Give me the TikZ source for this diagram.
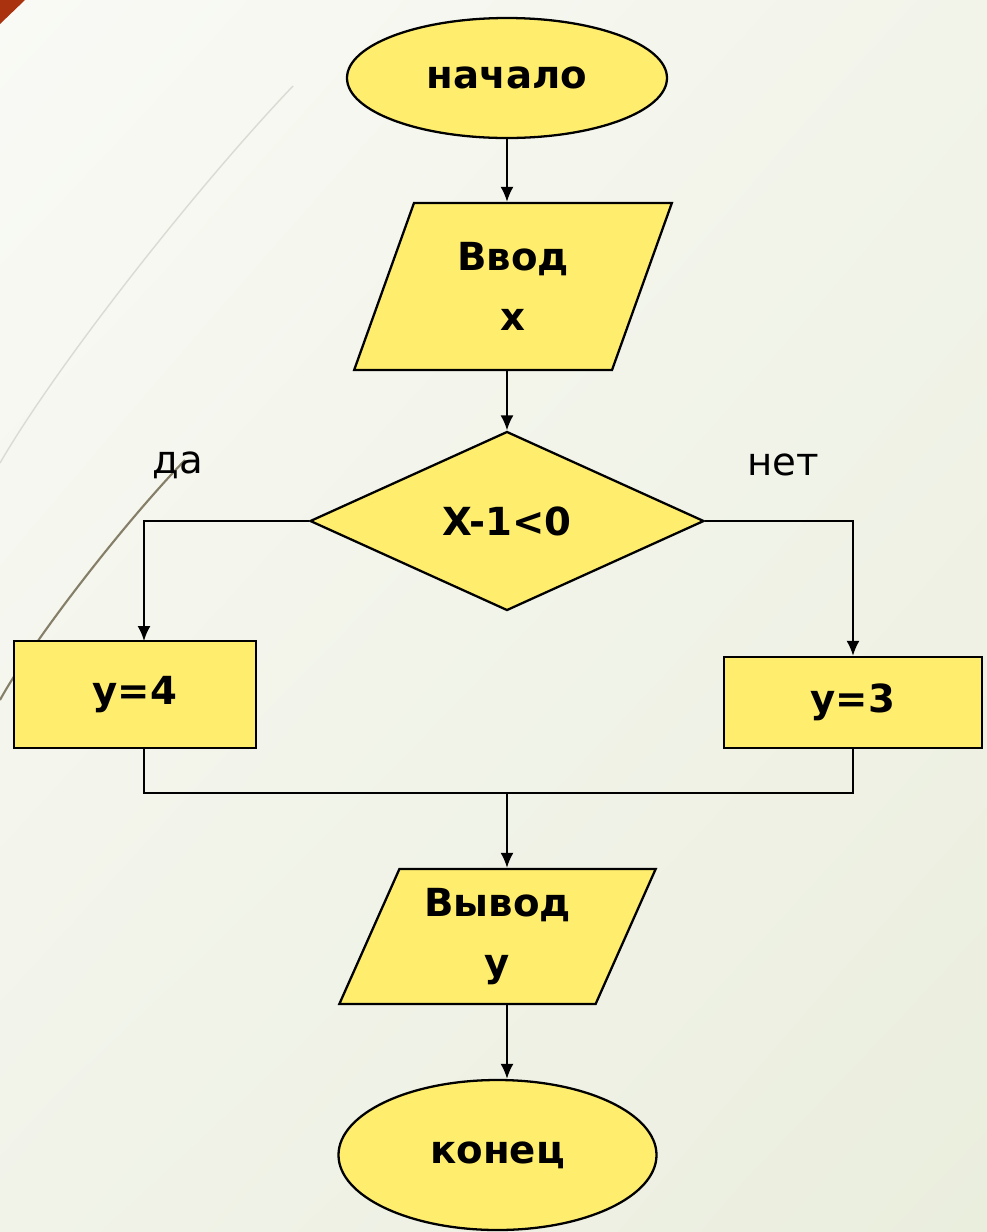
\documentclass[tikz,border=0pt]{standalone}
\usepackage{fontspec}
\setmainfont{DejaVu Sans}
\usetikzlibrary{shapes.geometric,arrows.meta,positioning,shadings}

\definecolor{blockyellow}{RGB}{255,238,110}
\definecolor{bgtl}{RGB}{249,250,245}
\definecolor{bgtr}{RGB}{242,244,234}
\definecolor{bgbl}{RGB}{241,243,233}
\definecolor{bgbr}{RGB}{234,238,221}
\definecolor{cornerred}{RGB}{170,50,15}
\definecolor{arclight}{RGB}{217,220,210}
\definecolor{arcdark}{RGB}{133,126,104}

\begin{document}
\begin{tikzpicture}[>={Latex[length=0.3cm,width=0.26cm]},
    block/.style={draw, line width=1.3pt, fill=blockyellow, align=center, inner sep=0pt,
      font=\fontsize{22}{34}\selectfont\bfseries},
    term/.style={block, ellipse},
    io/.style={block, trapezium, trapezium stretches=true},
    cond/.style={block, diamond},
    act/.style={block, rectangle},
    flow/.style={line width=1.1pt},
    answer/.style={font=\fontsize{22}{26}\selectfont}]

  % background of the slide
  \useasboundingbox (0,0) rectangle (19.74,-24.64);
  \shade[upper left=bgtl, upper right=bgtr, lower left=bgbl, lower right=bgbr]
    (0,0) rectangle (19.74,-24.64);
  \fill[cornerred] (0,0) -- (0.5,0) -- (0,-0.48) -- cycle;
  \draw[arclight, line width=0.8pt] (5.86,-1.72) .. controls (3.86,-3.82) and (1.1,-7.36) .. (0,-9.26);
  \draw[arcdark, line width=1.2pt] (3.7,-9.2) .. controls (2.4,-10.55) and (0.6,-12.9) .. (0,-14.0);

  % blocks
  \node[term, minimum width=6.4cm, minimum height=2.4cm] (start) at (10.14,-1.56) {начало};
  \node[io, trapezium left angle=69, trapezium right angle=111,
        minimum width=6.36cm, minimum height=3.34cm] (in) at (10.26,-5.73) {Ввод\\x};
  \node[cond, minimum width=7.88cm, minimum height=3.58cm] (test) at (10.14,-10.42) {X-1<0};
  \node[act, minimum width=4.84cm, minimum height=2.14cm] (yes) at (2.70,-13.89) {y=4};
  \node[act, minimum width=5.16cm, minimum height=1.82cm] (no) at (17.06,-14.05) {y=3};
  \node[io, trapezium left angle=65, trapezium right angle=115,
        minimum width=6.34cm, minimum height=2.7cm] (out) at (9.95,-18.73) {Вывод\\y};
  \node[term, minimum width=6.36cm, minimum height=3.0cm] (stop) at (9.95,-23.10) {конец};

  \node[answer] (yeslabel) at (3.56,-9.30) {да};
  \node[answer] (nolabel) at (15.66,-9.30) {нет};

  % connectors
  \coordinate (yesin) at (2.88,-12.82);
  \coordinate (join) at (10.14,-15.86);
  \draw[flow, ->] (start.south) -- (start.south |- in.north);
  \draw[flow, ->] (test.north |- in.south) -- (test.north);
  \draw[flow, ->] (test.west) -| (yesin);
  \draw[flow, ->] (test.east) -| (no.north);
  \draw[flow] (yes.south -| yesin) |- (join) -| (no.south);
  \draw[flow, ->] (join) -- (join |- out.north);
  \draw[flow, ->] (join |- out.south) -- (join |- stop.north);
\end{tikzpicture}
\end{document}
